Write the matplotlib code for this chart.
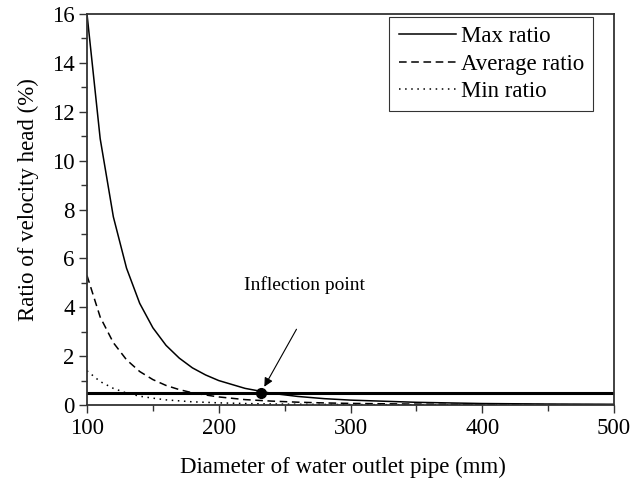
import matplotlib
matplotlib.use('Agg')
import matplotlib.pyplot as plt

plt.rcParams['font.family'] = 'Liberation Serif'

# pipe diameter (mm) and velocity-head ratios (%)
diameter = [100, 110, 120, 130, 140, 150, 160, 170, 180, 190, 200, 220, 240,
            260, 280, 300, 350, 400, 450, 500]
max_ratio = [16.0, 10.9, 7.7, 5.6, 4.16, 3.16, 2.44, 1.92, 1.52, 1.23, 1.0,
             0.68, 0.48, 0.35, 0.26, 0.20, 0.11, 0.06, 0.04, 0.03]
avg_ratio = [5.3, 3.6, 2.55, 1.85, 1.37, 1.04, 0.80, 0.63, 0.50, 0.41, 0.33,
             0.22, 0.16, 0.115, 0.085, 0.065, 0.036, 0.02, 0.013, 0.01]
min_ratio = [1.4, 0.96, 0.68, 0.49, 0.36, 0.28, 0.21, 0.17, 0.13, 0.11, 0.088,
             0.06, 0.042, 0.03, 0.023, 0.018, 0.01, 0.005, 0.004, 0.003]
threshold = 0.5
inflection = (232, 0.5)

fig = plt.figure(figsize=(6.32, 4.83), dpi=100)
ax = fig.add_axes([87/632, 1-405/483, (614-87)/632, (405-14)/483])

ax.plot(diameter, max_ratio, color='black', lw=1.1, label='Max ratio')
ax.plot(diameter, avg_ratio, color='black', lw=1.1, ls=(0, (5, 3)), label='Average ratio')
ax.plot(diameter, min_ratio, color='black', lw=1.1, ls=(0, (1, 3)), label='Min ratio')
ax.axhline(threshold, color='black', lw=2.2)
ax.plot(*inflection, 'o', color='black', ms=7)

# arrow and label for the inflection point
ax.annotate('', xy=inflection, xytext=(259, 3.1),
            arrowprops=dict(arrowstyle='-|>', color='black', lw=0.8,
                            mutation_scale=13, shrinkA=0, shrinkB=5))
ax.text(265, 4.9, 'Inflection point', ha='center', va='center', fontsize=14)

ax.set_xlim(100, 500)
ax.set_ylim(0, 16)
ax.set_xticks(range(100, 501, 100))
ax.set_xticks(range(150, 500, 100), minor=True)
ax.set_yticks(range(0, 17, 2))
ax.set_yticks(range(1, 16, 2), minor=True)
ax.tick_params(which='both', direction='out', top=False, right=False,
               labelsize=16.5, width=1, color='#333333', pad=3)
ax.tick_params(which='major', length=6)
ax.tick_params(which='minor', length=4)
for s in ax.spines.values():
    s.set_linewidth(1.3)
    s.set_color('#333333')

ax.set_xlabel('Diameter of water outlet pipe (mm)', fontsize=16.5, labelpad=13)
ax.set_ylabel('Ratio of velocity head (%)', fontsize=16.5, labelpad=9)
ax.xaxis.label.set_x(0.485)
ax.yaxis.label.set_y(0.525)

leg = ax.legend(loc='upper right', fontsize=16.5, frameon=True, fancybox=False,
                edgecolor='black', handlelength=2.5, handletextpad=0.2,
                borderpad=0.4, labelspacing=0.28, borderaxespad=0,
                bbox_to_anchor=(0.96, 0.992))
leg.get_frame().set_linewidth(0.8)

fig.savefig('out.png', dpi=100)
